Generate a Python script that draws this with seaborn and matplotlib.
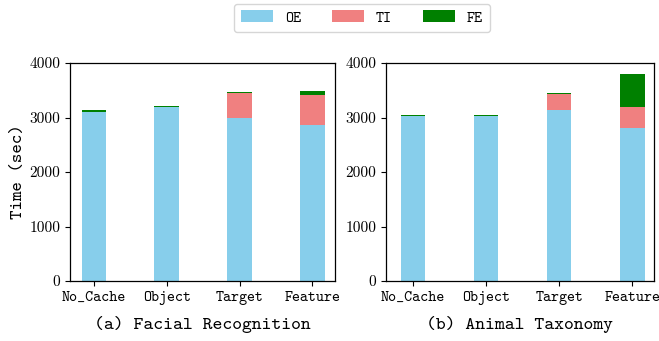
import matplotlib
matplotlib.use("Agg")
import matplotlib.pyplot as plt
from matplotlib.patches import Patch
import numpy as np
import seaborn as sns

# Caching strategies compared in both workloads
categories = ["No_Cache", "Object", "Target", "Feature"]

# (a) Facial Recognition, seconds per stage
face_oe = [3110, 3200, 3000, 2870]
face_ti = [0, 0, 455, 535]
face_fe = [20, 20, 20, 90]

# (b) Animal Taxonomy, seconds per stage
animal_oe = [3020, 3020, 3130, 2800]
animal_ti = [0, 0, 295, 390]
animal_fe = [22, 22, 22, 615]

series_names = ["OE", "TI", "FE"]
series_colors = ["#87CEEB", "#F08080", "#008000"]
yticks = [0, 1000, 2000, 3000, 4000]
titles = ["(a) Facial Recognition", "(b) Animal Taxonomy"]

plt.rcParams["font.family"] = ["cmtt10", "DejaVu Sans Mono"]

fig = plt.figure(figsize=(6.59, 3.41), dpi=100)
ax_a = fig.add_axes([70 / 659, 60 / 341, 265 / 659, 218 / 341])
ax_b = fig.add_axes([386 / 659, 60 / 341, 268 / 659, 218 / 341])

BAR_W = 0.34


def stacked(ax, oe, ti, fe, title, xlim):
    oe = np.asarray(oe, float)
    ti = np.asarray(ti, float)
    fe = np.asarray(fe, float)
    layers = [oe + ti + fe, oe + ti, oe]
    colors = [series_colors[2], series_colors[1], series_colors[0]]
    # draw cumulative totals from the top down so each layer shows its share
    for heights, color in zip(layers, colors):
        sns.barplot(x=categories, y=heights, color=color, saturation=1,
                    width=BAR_W, ax=ax, linewidth=0, errorbar=None)
    ax.set_xlim(*xlim)
    ax.set_ylim(0, 4000)
    ax.set_yticks(yticks)
    ax.set_yticklabels([str(t) for t in yticks], fontsize=11, family="cmr10")
    ax.tick_params(axis="x", labelsize=11)
    ax.set_xlabel(title, fontsize=13.5, labelpad=8)
    ax.set_ylabel("")
    for s in ax.spines.values():
        s.set_linewidth(0.9)


stacked(ax_a, face_oe, face_ti, face_fe, titles[0], (-0.33, 3.31))
stacked(ax_b, animal_oe, animal_ti, animal_fe, titles[1], (-0.37, 3.30))
ax_a.set_ylabel("Time (sec)", fontsize=13, labelpad=2)

handles = [Patch(facecolor=c, edgecolor="none", label=n)
           for n, c in zip(series_names, series_colors)]
fig.legend(handles=handles, loc="center", bbox_to_anchor=(362 / 659, 1 - 18 / 341),
           ncol=3, fontsize=11, handlelength=2.1, handleheight=0.8,
           handletextpad=0.8, columnspacing=2.0, frameon=True,
           borderpad=0.45)

fig.savefig("out.png", dpi=100)
